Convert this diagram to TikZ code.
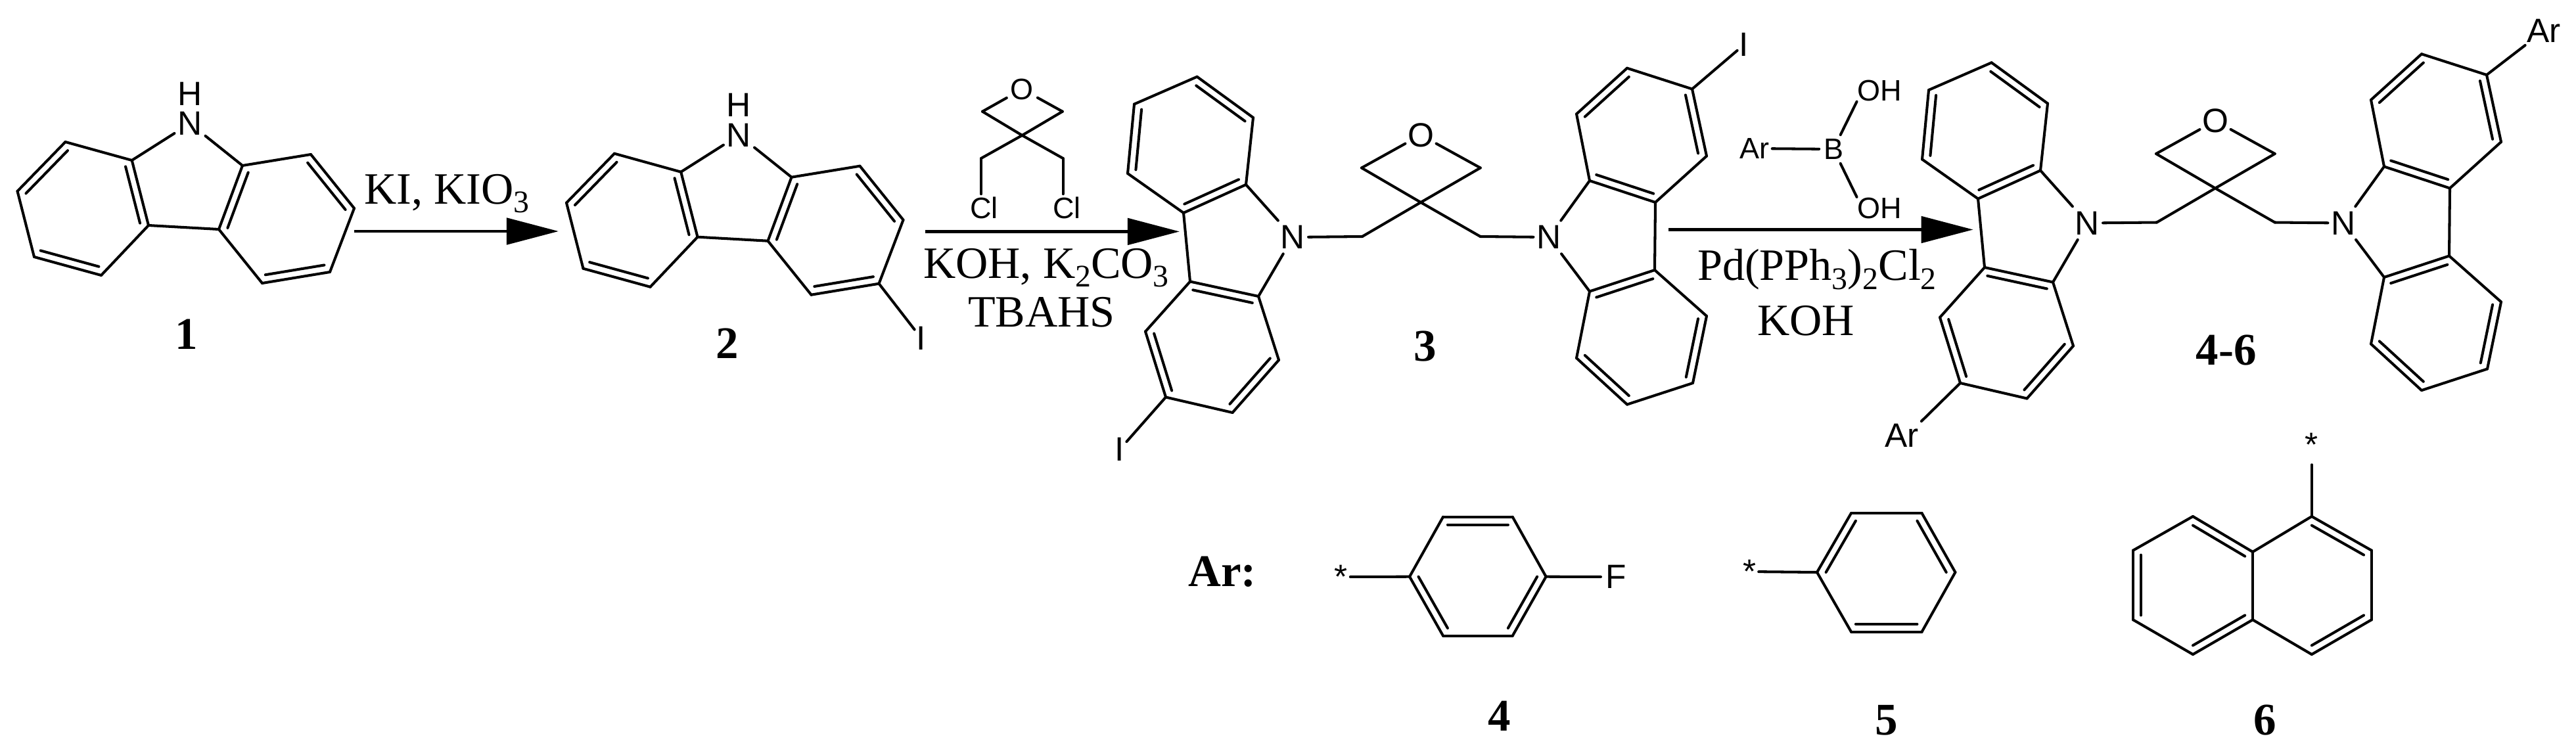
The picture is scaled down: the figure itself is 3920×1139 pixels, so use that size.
\documentclass[tikz,border=0pt]{standalone}
\usepackage{fontspec}
\setmainfont{Liberation Serif}
\newfontfamily\atomfont{Liberation Sans}
\usetikzlibrary{arrows.meta,calc}
\newcommand{\chemsub}[1]{\raisebox{-0.2em}{\fontsize{13.6}{15}\selectfont #1}}
\tikzstyle{bond} = [draw,line width=1.15pt,line cap=round]
\tikzstyle{reaction} = [draw,line width=1.4pt,-{Triangle[length=22.5pt,width=11.4pt]}]
\tikzstyle{atom} = [font=\atomfont\fontsize{14.6}{17}\selectfont,inner sep=0pt,minimum width=13pt,minimum height=14pt]
\tikzstyle{halogen} = [atom,minimum width=5.5pt]
\tikzstyle{freeatom} = [atom,minimum width=0pt,minimum height=0pt,inner sep=1pt]
\tikzstyle{smallatom} = [font=\atomfont\fontsize{12.8}{15}\selectfont,inner sep=1pt]
\tikzstyle{condition} = [font=\fontsize{19.4}{23}\selectfont,anchor=base,inner sep=0pt]
\tikzstyle{number} = [font=\bfseries\fontsize{19.6}{23}\selectfont,anchor=base,inner sep=0pt]
\begin{document}
\begin{tikzpicture}[x=0.01cm,y=-0.01cm]
    \useasboundingbox (0,0) rectangle (3920,1139);
    % Carbazole and its iodide share one skeleton
    \foreach \x/\y/\name in {200.7/244/a1, 99.5/216/a2, 26.5/291/a3, 52/391/a4, 154/419/a5,
                             226/343/a6, 369/252/b1, 473/235/b2, 539/317/b3, 502/414/b4,
                             399/431/b5, 333/349/b6, 126.4/317/ca, 436/333/cb} {
        \coordinate (m\name) at (\x,\y);
        \coordinate (n\name) at (\x+835.5,\y+17.7);
    }
    \node[atom] (mnh) at (289,188) {N};
    \node[atom] (mhh) at (289,142.5) {H};
    \node[atom] (nnh) at (1124.5,205.7) {N};
    \node[atom] (nhh) at (1124.5,160.2) {H};
    \foreach \mol in {m,n} {
        \foreach \ring in {a,b}
            \foreach \source/\dest in {1/2, 2/3, 3/4, 4/5, 5/6, 6/1}
                \path[bond] (\mol\ring\source) -- (\mol\ring\dest);
        \foreach \source/\dest in {a1/nh, b1/nh, a6/b6}
            \path[bond] (\mol\source) -- (\mol\dest);
        \foreach \source/\dest/\hub in {a2/a3/ca, a1/a6/ca, a4/a5/ca,
                                        b1/b6/cb, b2/b3/cb, b4/b5/cb}
            \path[bond] ($(\mol\source)!.13!(\mol\hub)$) -- ($(\mol\dest)!.13!(\mol\hub)$);
    }
    \node[halogen] (iodo2) at (1402,515) {I};
    \path[bond] (nb4) -- (iodo2);
    % The two oxetane dimers
    \foreach \x/\y/\name in {1821.6/116.8/c1, 1726/158.5/c2, 1716/264/c3, 1801/324/c4,
                             1896/281/c5, 1907/179/c6, 1811/428.5/d1, 1915/451/d2,
                             1946/548/d3, 1875.5/628/d4, 1774/604.5/d5, 1743/504.6/d6,
                             2419/275/e1, 2519/308/e2, 2597/237.5/e3, 2575/135.5/e4,
                             2476/103.7/e5, 2399/173.5/e6, 2419/443.5/f1, 2518/411/f2,
                             2597/481/f3, 2576/583/f4, 2476/615.6/f5, 2399/545/f6,
                             1811.3/220.6/cc, 1844.1/527.4/cd, 2497.5/205.5/ce, 2497.5/513/cf,
                             2073/360/ch1, 2252.7/360/ch2, 2162/308/spiro,
                             2072/255.5/ox1, 2252.7/255.5/ox2} {
        \coordinate (p\name) at (\x,\y);
        \coordinate (q\name) at (\x+1209,\y-21.5);
    }
    \node[atom] (pn1) at (1967.5,361) {N};
    \node[atom] (pn2) at (2357,361) {N};
    \node[atom] (poo) at (2162,205.5) {O};
    \node[atom] (qn1) at (3176.5,339.5) {N};
    \node[atom] (qn2) at (3566,339.5) {N};
    \node[atom] (qoo) at (3371,184) {O};
    \foreach \mol in {p,q} {
        \foreach \ring in {c,d,e,f}
            \foreach \source/\dest in {1/2, 2/3, 3/4, 4/5, 5/6, 6/1}
                \path[bond] (\mol\ring\source) -- (\mol\ring\dest);
        \foreach \source/\dest in {c4/d1, c5/n1, d2/n1, e2/f2, e1/n2, f1/n2,
                                   n1/ch1, ch1/spiro, spiro/ch2, ch2/n2,
                                   spiro/ox1, spiro/ox2, ox1/oo, ox2/oo}
            \path[bond] (\mol\source) -- (\mol\dest);
        \foreach \source/\dest/\hub in {c1/c6/cc, c2/c3/cc, c4/c5/cc,
                                        d1/d2/cd, d3/d4/cd, d5/d6/cd,
                                        e1/e2/ce, e3/e4/ce, e5/e6/ce,
                                        f1/f2/cf, f3/f4/cf, f5/f6/cf}
            \path[bond] ($(\mol\source)!.13!(\mol\hub)$) -- ($(\mol\dest)!.13!(\mol\hub)$);
    }
    \node[halogen] (iodo3a) at (1704,684) {I};
    \node[halogen] (iodo3b) at (2654,68) {I};
    \node[freeatom] (ar4a) at (2894,663) {Ar};
    \node[freeatom] (ar4b) at (3871,47) {Ar};
    \path[bond] (pd5) -- (iodo3a);
    \path[bond] (pe4) -- (iodo3b);
    \path[bond] (qd5) -- (ar4a.north east);
    \path[bond] (qe4) -- (ar4b);
    % Dichloride over the second arrow
    \foreach \x/\y/\name in {1495/169.7/rl, 1616.8/169.7/rr, 1555.4/206/rc,
                             1493/241/cl1, 1617.6/241/cl2}
        \coordinate (\name) at (\x,\y);
    \node[smallatom,minimum size=13pt,inner sep=0pt] (ro) at (1555.4,135.7) {O};
    \node[smallatom] (chl1) at (1497.7,316) {Cl};
    \node[smallatom] (chl2) at (1623.4,316) {Cl};
    \foreach \source/\dest in {rl/ro, rr/ro, rl/rc, rr/rc, rc/cl1, rc/cl2}
        \path[bond] (\source) -- (\dest);
    \path[bond] (cl1) -- (cl1 |- chl1.north);
    \path[bond] (cl2) -- (cl2 |- chl2.north);
    % Boronic acid over the third arrow
    \node[smallatom,minimum size=12pt,inner sep=0pt] (boron) at (2790,227) {B};
    \node[smallatom] (arb) at (2670,226) {Ar};
    \node[smallatom,inner sep=0pt] (oh1) at (2860,138) {OH};
    \node[smallatom,inner sep=0pt] (oh2) at (2860,316.5) {OH};
    \foreach \source/\dest in {arb/boron, boron/oh1.south west, boron/oh2.north west}
        \path[bond] (\source) -- (\dest);
    % Arrows and conditions
    \foreach \x/\y/\name in {539/352/s1, 850/352/t1, 1408/352.4/s2, 1795/352.4/t2,
                             2539/349.5/s3, 3002.7/349.5/t3}
        \coordinate (\name) at (\x,\y);
    \foreach \source/\dest in {s1/t1, s2/t2, s3/t3}
        \path[reaction] (\source) -- (\dest);
    \node[condition] (kio) at (680,310) {KI, KIO\chemsub{3}};
    \node[condition] (base) at (1592,423) {KOH, K\chemsub{2}CO\chemsub{3}};
    \node[condition] (tbahs) at (1585,497) {TBAHS};
    \node[condition] (cat) at (2765,426.6) {Pd(PPh\chemsub{3})\chemsub{2}Cl\chemsub{2}};
    \node[condition] (koh) at (2748,510) {KOH};
    % Compound numbers
    \foreach \x/\y/\name/\lab in {283.6/531.7/lab1/1, 1107/545/lab2/2, 2169/549/lab3/3,
                                  3387.7/555/lab46/4-6, 2281.6/1112/lab4/4,
                                  2871/1118/lab5/5, 3447/1118/lab6/6}
        \node[number] (\name) at (\x,\y) {\lab};
    \node[number] (arlab) at (1860,892) {Ar:};
    % Aryl groups
    \foreach \x/\y/\name in {2145/877.7/g1, 2196/786.7/g2, 2301.7/786.7/g3, 2352.6/877.7/g4,
                             2301.7/967.7/g5, 2196/967.7/g6, 2249/877.7/cg,
                             2765/871/h1, 2817/781/h2, 2924.5/781/h3, 2975.4/871/h4,
                             2924.5/961.7/h5, 2817/961.7/h6, 2870/871/ch,
                             3517.8/786/k1, 3608.8/837.7/k2, 3608.8/943.3/k3, 3517.8/996/k4,
                             3428/943.3/k5, 3428/840/k6, 3337/786/l1, 3246/837.7/l2,
                             3246/943.3/l3, 3337/996/l4, 3518/891/ck, 3337/891/cl}
        \coordinate (\name) at (\x,\y);
    \node[atom] (fl) at (2459.5,878) {F};
    \node[freeatom] (star4) at (2040.6,878) {*};
    \node[freeatom] (star5) at (2662,870) {*};
    \node[freeatom] (star6) at (3517.8,677) {*};
    \foreach \ring in {g,h,k}
        \foreach \source/\dest in {1/2, 2/3, 3/4, 4/5, 5/6, 6/1}
            \path[bond] (\ring\source) -- (\ring\dest);
    \foreach \source/\dest in {k6/l1, l1/l2, l2/l3, l3/l4, l4/k5,
                               star4/g1, g4/fl, star5/h1}
        \path[bond] (\source) -- (\dest);
    \path[bond,shorten >=2.4pt] (k1) -- (star6);
    \foreach \source/\dest/\hub in {g2/g3/cg, g4/g5/cg, g6/g1/cg,
                                    h1/h2/ch, h3/h4/ch, h5/h6/ch,
                                    k1/k2/ck, k3/k4/ck,
                                    l1/k6/cl, l2/l3/cl, l4/k5/cl}
        \path[bond] ($(\source)!.13!(\hub)$) -- ($(\dest)!.13!(\hub)$);
\end{tikzpicture}
\end{document}
